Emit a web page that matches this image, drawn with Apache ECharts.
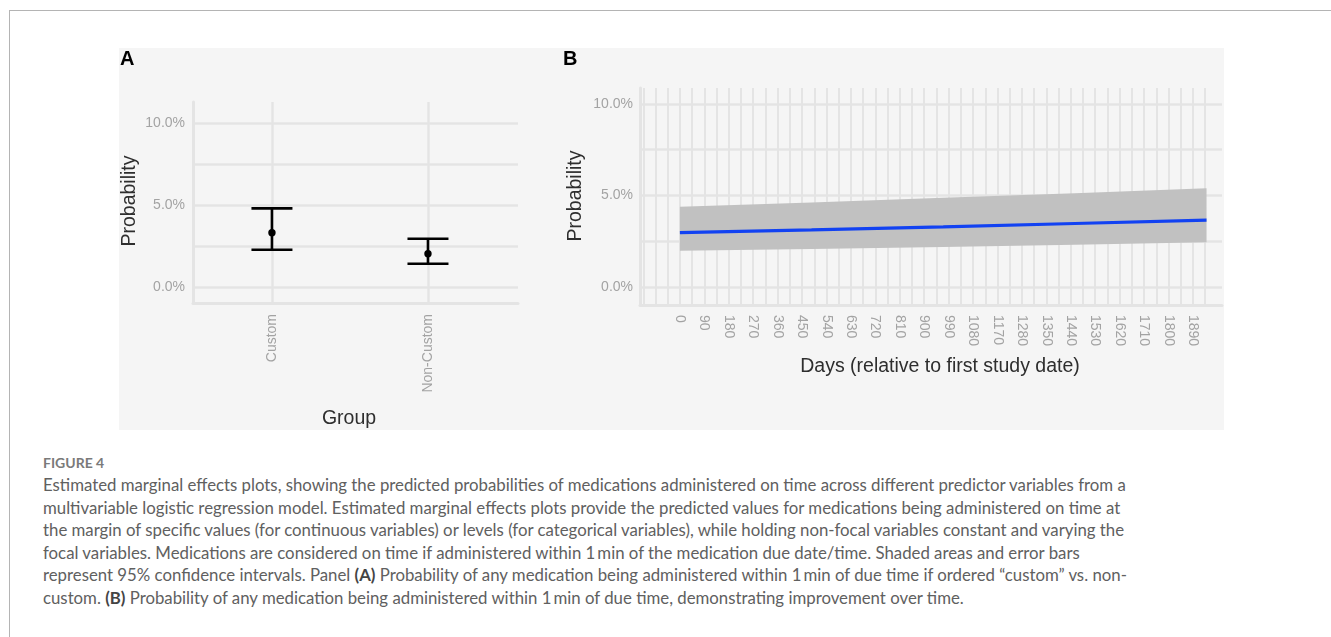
<!DOCTYPE html>
<html>
<head>
<meta charset="utf-8">
<script src="https://cdn.jsdelivr.net/npm/echarts@6/dist/echarts.min.js"></script>
<style>
html,body{margin:0;padding:0;background:#fff;width:1331px;height:637px;overflow:hidden;}
#chart{position:absolute;left:0;top:0;width:1331px;height:445px;}
#frameTop{position:absolute;left:9px;top:10px;width:1322px;height:0;border-top:1.5px solid #b4b4b4;}
#frameLeft{position:absolute;left:9px;top:10px;width:0;height:627px;border-left:1.5px solid #b4b4b4;}
#caption{position:absolute;left:43px;top:455px;font-family:Lato,'Open Sans','Noto Sans',sans-serif;color:#606060;}
#caption .fig{font-size:14px;font-weight:700;color:#7a7a7a;line-height:16px;height:19px;}
#caption .ln{font-size:16.8px;line-height:22.6px;white-space:nowrap;}
#caption b{font-weight:700;color:#444;}
</style>
</head>
<body>
<div id="frameTop"></div>
<div id="frameLeft"></div>
<div id="chart"></div>
<div id="caption">
<div class="fig">FIGURE 4</div>
<div class="ln">Estimated marginal effects plots, showing the predicted probabilities of medications administered on time across different predictor variables from a</div>
<div class="ln">multivariable logistic regression model. Estimated marginal effects plots provide the predicted values for medications being administered on time at</div>
<div class="ln">the margin of specific values (for continuous variables) or levels (for categorical variables), while holding non-focal variables constant and varying the</div>
<div class="ln">focal variables. Medications are considered on time if administered within 1&#8201;min of the medication due date/time. Shaded areas and error bars</div>
<div class="ln">represent 95% confidence intervals. Panel <b>(A)</b> Probability of any medication being administered within 1&#8201;min of due time if ordered &#8220;custom&#8221; vs. non-</div>
<div class="ln">custom. <b>(B)</b> Probability of any medication being administered within 1&#8201;min of due time, demonstrating improvement over time.</div>
</div>
<script>
// ---- Panel A data ----
const groups = ['Custom', 'Non-Custom'];
const groupPos = [1, 2];
const estA = [3.31, 2.02];
const lowA = [2.27, 1.41];
const highA = [4.79, 2.94];

// ---- Panel B data ----
const days = [0, 485, 970, 1455, 1940];
const fitB = [2.97, 3.12, 3.29, 3.47, 3.66];
const lowB = [1.98, 2.08, 2.19, 2.31, 2.44];
const highB = [4.39, 4.62, 4.87, 5.12, 5.39];

// ---- Tick labels ----
const dayBreaks = [0, 90, 180, 270, 360, 450, 540, 630, 720, 810, 900, 990, 1080, 1170, 1260, 1350, 1440, 1530, 1620, 1710, 1800, 1890];
const dayLabels = ['0', '90', '180', '270', '360', '450', '540', '630', '720', '810', '900', '990', '1080', '1170', '1280', '1350', '1440', '1530', '1620', '1710', '1800', '1890'];
const dayGrid = [-135, -90, -45, 0, 45, 90, 135, 180, 225, 270, 315, 360, 405, 450, 495, 540, 585, 630, 675, 720, 765, 810, 855, 900, 945, 990, 1035, 1080, 1125, 1170, 1215, 1260, 1305, 1350, 1395, 1440, 1485, 1530, 1575, 1620, 1665, 1710, 1755, 1800, 1845, 1890, 1935];
const probGrid = [0, 2.5, 5, 7.5, 10];
const probLabels = [0, 5, 10];

const FONT = "'Liberation Sans', Arial, Helvetica, sans-serif";
const GRID_C = '#e4e4e4';
const AXIS_C = '#e4e4e4';
const TICK_C = '#a3a3a3';
const TITLE_C = '#2e2e2e';

const chart = echarts.init(document.getElementById('chart'), null, {renderer: 'canvas'});

function pct(v) { return v.toFixed(1) + '%'; }

const option = {
  animation: false,
  backgroundColor: 'transparent',
  grid: [
    {left: 193, top: 102, width: 325, height: 201, containLabel: false},
    {left: 640, top: 88, width: 582, height: 217, containLabel: false}
  ],
  xAxis: [
    {
      type: 'value', gridIndex: 0, min: 0.494, max: 2.577,
      axisLine: {show: true, onZero: false, lineStyle: {color: AXIS_C, width: 3}},
      axisTick: {show: false, customValues: groupPos},
      splitLine: {show: true, lineStyle: {color: GRID_C, width: 2.5}},
      axisLabel: {
        customValues: groupPos, rotate: 90, margin: 11,
        fontFamily: FONT, fontSize: 14, color: TICK_C,
        formatter: function (v) { return groups[groupPos.indexOf(v)]; }
      }
    },
    {
      type: 'value', gridIndex: 1, min: -147, max: 1997,
      axisLine: {show: true, onZero: false, lineStyle: {color: AXIS_C, width: 3}},
      axisTick: {show: false, customValues: dayGrid},
      splitLine: {show: true, lineStyle: {color: GRID_C, width: 2}},
      axisLabel: {
        customValues: dayBreaks, rotate: -90, margin: 10,
        fontFamily: FONT, fontSize: 14, color: TICK_C,
        formatter: function (v) { return dayLabels[dayBreaks.indexOf(v)]; }
      }
    }
  ],
  yAxis: [
    {
      type: 'value', gridIndex: 0, min: -0.98, max: 11.28,
      axisLine: {show: true, onZero: false, lineStyle: {color: AXIS_C, width: 3}},
      axisTick: {show: false, customValues: probGrid},
      splitLine: {show: true, lineStyle: {color: GRID_C, width: 2.5}},
      axisLabel: {customValues: probLabels, margin: 8, fontFamily: FONT, fontSize: 14, color: TICK_C, formatter: pct}
    },
    {
      type: 'value', gridIndex: 1, min: -0.98, max: 10.87,
      axisLine: {show: true, onZero: false, lineStyle: {color: AXIS_C, width: 3}},
      axisTick: {show: false, customValues: probGrid},
      splitLine: {show: true, lineStyle: {color: GRID_C, width: 2.5}},
      axisLabel: {customValues: probLabels, margin: 7, fontFamily: FONT, fontSize: 14, color: TICK_C, formatter: pct}
    }
  ],
  graphic: [
    {type: 'rect', z: -10, silent: true, shape: {x: 119, y: 48, width: 1105, height: 382}, style: {fill: '#f5f5f5'}},
    {type: 'text', left: 120, top: 49, style: {text: 'A', font: 'bold 20px ' + FONT, fill: '#000'}},
    {type: 'text', left: 563, top: 49, style: {text: 'B', font: 'bold 20px ' + FONT, fill: '#000'}},
    {type: 'text', x: 130, y: 201, rotation: Math.PI / 2, style: {text: 'Probability', font: '19.5px ' + FONT, fill: TITLE_C, align: 'center', verticalAlign: 'middle'}},
    {type: 'text', x: 576, y: 196, rotation: Math.PI / 2, style: {text: 'Probability', font: '19.5px ' + FONT, fill: TITLE_C, align: 'center', verticalAlign: 'middle'}},
    {type: 'text', x: 349, y: 419, style: {text: 'Group', font: '19.5px ' + FONT, fill: TITLE_C, align: 'center', verticalAlign: 'middle'}},
    {type: 'text', x: 940, y: 367, style: {text: 'Days (relative to first study date)', font: '19.5px ' + FONT, fill: TITLE_C, align: 'center', verticalAlign: 'middle'}}
  ],
  series: [
    {
      type: 'custom', xAxisIndex: 0, yAxisIndex: 0, z: 5,
      data: groupPos.map(function (p, i) { return [p, lowA[i], highA[i], estA[i]]; }),
      encode: {x: 0, y: [1, 2, 3]},
      renderItem: function (params, api) {
        const x = api.value(0);
        const pLo = api.coord([x, api.value(1)]);
        const pHi = api.coord([x, api.value(2)]);
        const pM = api.coord([x, api.value(3)]);
        const hw = 20.5;
        const st = {stroke: '#000', lineWidth: 2.6};
        return {type: 'group', children: [
          {type: 'line', shape: {x1: pLo[0], y1: pLo[1], x2: pHi[0], y2: pHi[1]}, style: st},
          {type: 'line', shape: {x1: pLo[0] - hw, y1: pLo[1], x2: pLo[0] + hw, y2: pLo[1]}, style: st},
          {type: 'line', shape: {x1: pHi[0] - hw, y1: pHi[1], x2: pHi[0] + hw, y2: pHi[1]}, style: st},
          {type: 'circle', shape: {cx: pM[0], cy: pM[1], r: 3.7}, style: {fill: '#000'}}
        ]};
      }
    },
    {
      type: 'custom', xAxisIndex: 1, yAxisIndex: 1, z: 3,
      data: days.map(function (d, i) { return [d, lowB[i], highB[i]]; }),
      encode: {x: 0, y: [1, 2]},
      renderItem: function (params, api) {
        if (params.dataIndex !== 0) return null;
        const pts = [];
        for (let i = 0; i < days.length; i++) pts.push(api.coord([days[i], highB[i]]));
        for (let i = days.length - 1; i >= 0; i--) pts.push(api.coord([days[i], lowB[i]]));
        return {type: 'polygon', shape: {points: pts}, style: {fill: '#c1c1c1'}};
      }
    },
    {
      type: 'line', xAxisIndex: 1, yAxisIndex: 1, z: 4,
      data: days.map(function (d, i) { return [d, fitB[i]]; }),
      showSymbol: false, symbol: 'none',
      lineStyle: {color: '#1242f2', width: 3.2}
    }
  ]
};
chart.setOption(option);
</script>
</body>
</html>
